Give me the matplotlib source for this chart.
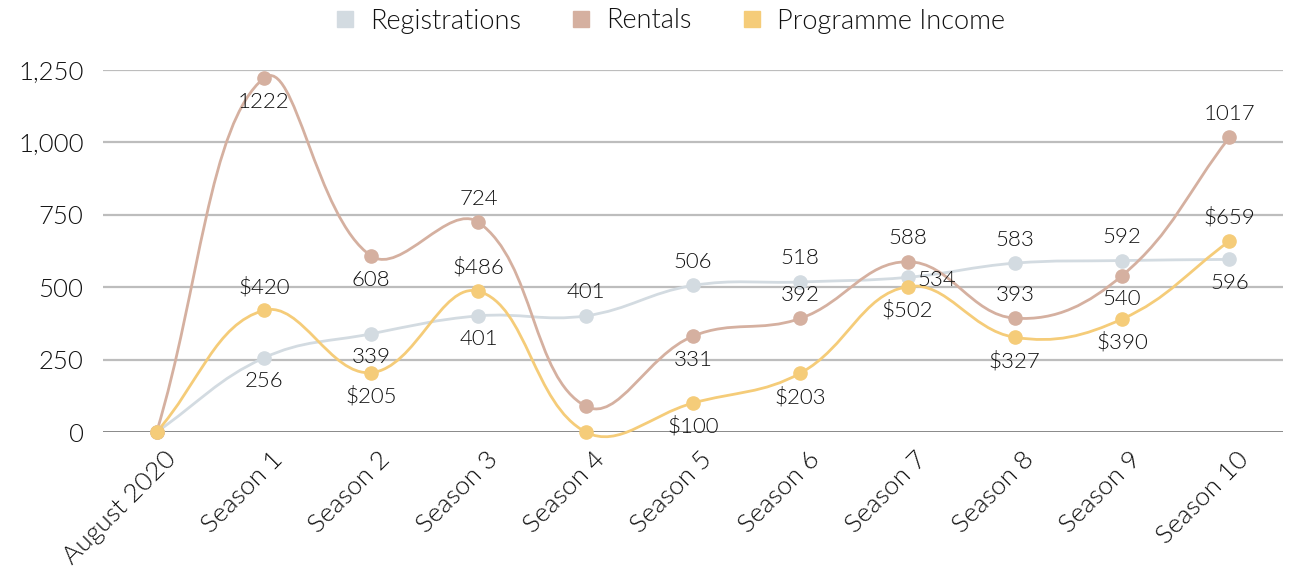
import numpy as np
import matplotlib
matplotlib.use('Agg')
import matplotlib.pyplot as plt
import matplotlib.transforms as mtransforms
from matplotlib.path import Path
from matplotlib.patches import PathPatch
from matplotlib.lines import Line2D
from matplotlib.ticker import FuncFormatter

# Data
categories = ['August 2020', 'Season 1', 'Season 2', 'Season 3', 'Season 4', 'Season 5',
              'Season 6', 'Season 7', 'Season 8', 'Season 9', 'Season 10']
registrations = [0, 256, 339, 401, 401, 506, 518, 534, 583, 592, 596]
rentals = [0, 1222, 608, 724, 89, 331, 392, 588, 393, 540, 1017]
programme_income = [0, 420, 205, 486, 0, 100, 203, 502, 327, 390, 659]

# where each data label sits: 'a' above, 'b' below, 'r' right, None hidden
reg_pos = [None, 'b', 'b', 'b', 'a', 'a', 'a', 'r', 'a', 'a', 'b']
rent_pos = [None, 'b', 'b', 'a', None, 'b', 'a', 'a', 'a', 'b', 'a']
prog_pos = [None, 'a', 'b', 'a', None, 'b', 'b', 'b', 'b', 'b', 'a']

c_reg = '#d3dbe1'
c_rent = '#d5b0a0'
c_prog = '#f5cc79'
text_col = '#111111'

plt.rcParams['font.family'] = ['Lato', 'DejaVu Sans']
plt.rcParams['font.weight'] = 300

W, H = 1290, 570
fig = plt.figure(figsize=(W / 100, H / 100), dpi=100)
ax_l, ax_r, ax_b, ax_t = 103, 1283, 432, 70
ax = fig.add_axes([ax_l / W, 1 - ax_b / H, (ax_r - ax_l) / W, (ax_b - ax_t) / H])

n = len(categories)
x = np.arange(n)
ax.set_xlim(-0.5, n - 0.5)
ax.set_ylim(0, 1250)

# pixel scale factors for the spline (Chart.js style, tension 0.4)
sx = (ax_r - ax_l) / n
sy = (ax_b - ax_t) / 1250


def smooth_path(xs, ys, t=0.4):
    P = np.column_stack([np.asarray(xs, float) * sx, np.asarray(ys, float) * sy])
    m = len(P)
    cp_prev = np.zeros_like(P)
    cp_next = np.zeros_like(P)
    for i in range(m):
        prev = P[i - 1] if i > 0 else P[i]
        nxt = P[i + 1] if i < m - 1 else P[i]
        d01 = np.hypot(*(P[i] - prev))
        d12 = np.hypot(*(nxt - P[i]))
        tot = d01 + d12
        s01 = d01 / tot if tot else 0
        s12 = d12 / tot if tot else 0
        cp_prev[i] = P[i] - t * s01 * (nxt - prev)
        cp_next[i] = P[i] + t * s12 * (nxt - prev)
    verts = [P[0]]
    codes = [Path.MOVETO]
    for i in range(m - 1):
        verts += [cp_next[i], cp_prev[i + 1], P[i + 1]]
        codes += [Path.CURVE4] * 3
    verts = np.array(verts) / np.array([sx, sy])
    return Path(verts, codes)


# grid
for v in [250, 500, 750, 1000, 1250]:
    ax.axhline(v, color='#bdbdbd', lw=1.6, zorder=0)
ax.axhline(0, color='#666666', lw=1.8, zorder=1)

series = [(registrations, c_reg, reg_pos, ''),
          (rentals, c_rent, rent_pos, ''),
          (programme_income, c_prog, prog_pos, '$')]

for vals, col, pos, prefix in series:
    ax.add_patch(PathPatch(smooth_path(x, vals), fill=False, edgecolor=col, lw=2,
                           clip_on=False, zorder=2))
    ax.plot(x, vals, 'o', color=col, markersize=9.5, clip_on=False, zorder=3)
    for xi, v, p in zip(x, vals, pos):
        if p is None:
            continue
        if p == 'a':
            off, ha = (0, 17), 'center'
        elif p == 'b':
            off, ha = (0, -17), 'center'
        else:
            off, ha = (7, -2), 'left'
        ax.annotate(f'{prefix}{v}', (xi, v), xytext=off, textcoords='offset points',
                    ha=ha, va='center', fontsize=16, color=text_col, zorder=4)

ax.set_yticks([0, 250, 500, 750, 1000, 1250])
ax.yaxis.set_major_formatter(FuncFormatter(lambda v, _: f'{int(v):,}'))
ax.set_xticks(x)
ax.set_xticklabels(categories, rotation=45, ha='right', rotation_mode='anchor')
ax.tick_params(axis='y', length=0, labelsize=18.5, colors=text_col, pad=14)
ax.tick_params(axis='x', length=0, labelsize=19, colors=text_col, pad=11)
shift = mtransforms.ScaledTranslation(7 / 100, 0, fig.dpi_scale_trans)
for lbl in ax.get_xticklabels():
    lbl.set_transform(lbl.get_transform() + shift)
for s in ax.spines.values():
    s.set_visible(False)

handles = [Line2D([], [], marker='s', ls='', color=c, markersize=11)
           for c in (c_reg, c_rent, c_prog)]
fig.legend(handles, ['Registrations', 'Rentals', 'Programme Income'],
           loc='center', bbox_to_anchor=(0.519, 1 - 21 / H), ncol=3, frameon=False,
           fontsize=19.5, handlelength=0.8, handletextpad=0.55, columnspacing=1.8,
           labelcolor=text_col)

fig.savefig('out.png', dpi=100)
